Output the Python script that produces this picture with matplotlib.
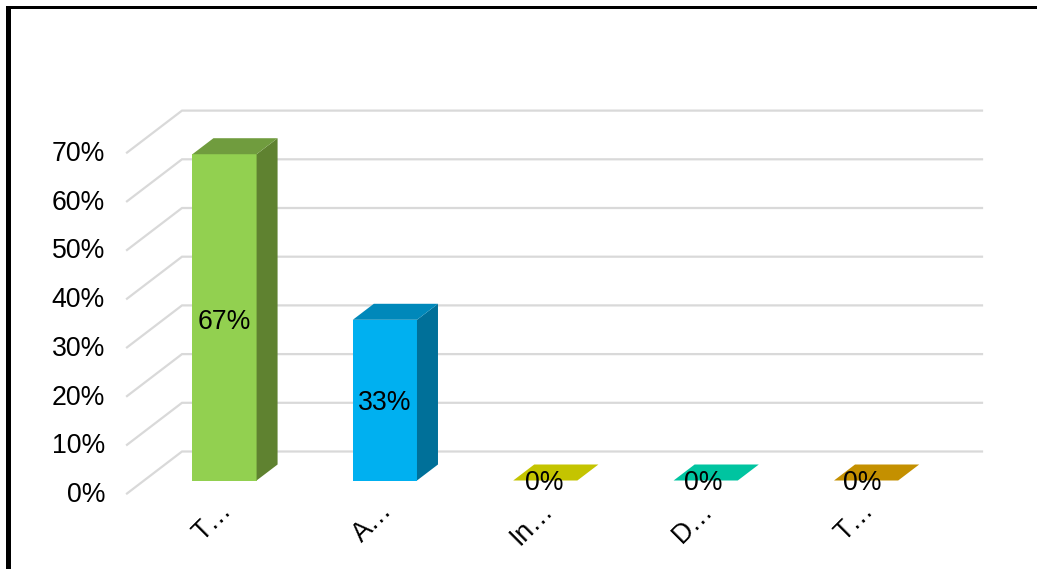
import matplotlib
matplotlib.use('Agg')
import matplotlib.pyplot as plt
from matplotlib.patches import Rectangle

plt.rcParams['font.family'] = ['Liberation Sans', 'DejaVu Sans']

categories = ['T…', 'A…', 'In…', 'D…', 'T…']
values = [67, 33, 0, 0, 0]
ticks = [0, 10, 20, 30, 40, 50, 60, 70]

front_colors = ['#92D050', '#00B0F0', '#E6E600', '#00E6BC', '#E6A900']
top_colors = ['#709C3E', '#0088BA', '#C4C400', '#00C4A0', '#C49000']
side_colors = ['#5F8230', '#007099', '#A0A000', '#00A080', '#A07600']

W, H = 1037, 569
x_step = 160.4      # px between categories
y_step = 4.87       # px per percent
x_zero = 224.5      # px of first bar centre
y_zero = 480.5      # px of the bar base

fig = plt.figure(figsize=(W / 100, H / 100), dpi=100)
ax = fig.add_axes([0, 0, 1, 1])
ax.set_xlim(-x_zero / x_step, (W - x_zero) / x_step)
ax.set_ylim((y_zero - H) / y_step, y_zero / y_step)
ax.axis('off')

# fake 3d offsets, in data units
bar_w = 0.4
depth_x = 21 / x_step
depth_y = 16 / y_step
wall_front = (127 - x_zero) / x_step
wall_back = (182 - x_zero) / x_step
wall_right = (982 - x_zero) / x_step
front_dy = -13 / y_step
back_dy = 29 / y_step
tick_label_dy = -1.5 / y_step
bar_label_dx = [0, 0, -1, -2.5, -4]  # px
bar_label_dy = [5, 2.5, 3, 3, 3]     # px, pushes the labels down a little

for t in ticks:
    ax.plot([wall_front, wall_back, wall_right],
            [t + front_dy, t + back_dy, t + back_dy],
            color='#D9D9D9', lw=1.6, zorder=1, solid_joinstyle='miter')
    ax.text(wall_front - 22 / x_step, t + front_dy + tick_label_dy, str(t) + '%',
            ha='right', va='center', fontsize=19.2, color='black')

for i, v in enumerate(values):
    left = i - bar_w / 2
    right = i + bar_w / 2
    if v > 0:
        ax.bar(i, v, width=bar_w, color=front_colors[i], zorder=2)
        ax.fill([right, right + depth_x, right + depth_x, right],
                [0, depth_y, v + depth_y, v],
                color=side_colors[i], lw=0, zorder=2)
    ax.fill([left, right, right + depth_x, left + depth_x],
            [v, v, v + depth_y, v + depth_y],
            color=top_colors[i], lw=0, zorder=2)
    ax.text(i + bar_label_dx[i] / x_step, v / 2 - bar_label_dy[i] / y_step,
            str(v) + '%', ha='center', va='center', fontsize=19.2,
            color='black', zorder=3)
    ax.text(i - 0.035, -3.4, categories[i], rotation=45, ha='right', va='top',
            rotation_mode='anchor', fontsize=19.2, color='black')

# black border, top and left sides only
fig.add_artist(Rectangle((6 / W, 0), 4.5 / W, 1 - 6 / H,
                         transform=fig.transFigure, color='black', lw=0))
fig.add_artist(Rectangle((6 / W, 1 - 8.5 / H), 1 - 6 / W, 2.5 / H,
                         transform=fig.transFigure, color='black', lw=0))

fig.savefig('out.png', dpi=100, facecolor='white')
